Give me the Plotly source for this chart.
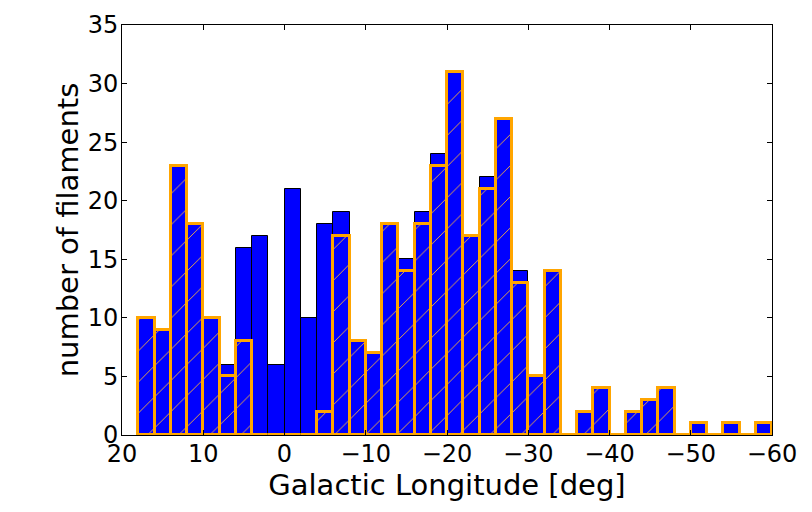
import plotly.graph_objects as go

# Bin edges in Galactic longitude (deg), 2-degree bins from +18 down to -60
bin_edges = [18, 16, 14, 12, 10, 8, 6, 4, 2, 0, -2, -4, -6, -8, -10, -12, -14, -16, -18, -20,
             -22, -24, -26, -28, -30, -32, -34, -36, -38, -40, -42, -44, -46, -48, -50, -52,
             -54, -56, -58, -60]

# All filaments per bin
counts_all = [10, 9, 23, 18, 10, 6, 16, 17, 6, 21, 10, 18, 19, 8, 7, 18, 15, 19, 24, 31,
              17, 22, 27, 14, 5, 14, 0, 2, 4, 0, 2, 3, 4, 0, 1, 0, 1, 0, 1]

# Subset (orange, hatched) per bin
counts_sub = [10, 9, 23, 18, 10, 5, 8, 0, 0, 0, 0, 2, 17, 8, 7, 18, 14, 18, 23, 31,
              17, 21, 27, 13, 5, 14, 0, 2, 4, 0, 2, 3, 4, 0, 1, 0, 1, 0, 1]

x_ticks = [20, 10, 0, -10, -20, -30, -40, -50, -60]
y_ticks = [0, 5, 10, 15, 20, 25, 30, 35]

centers = [(a + b) / 2 for a, b in zip(bin_edges[:-1], bin_edges[1:])]
widths = [abs(b - a) for a, b in zip(bin_edges[:-1], bin_edges[1:])]

fig = go.Figure()

fig.add_trace(go.Bar(
    x=centers, y=counts_all, width=widths,
    marker=dict(color="#0000ff", line=dict(color="black", width=1)),
    hoverinfo="skip", showlegend=False,
))

fig.add_trace(go.Bar(
    x=centers, y=counts_sub, width=widths,
    marker=dict(
        color="#0000ff",
        line=dict(color="#ffa500", width=3),
        pattern=dict(shape="/", fgcolor="#ffb733", bgcolor="#0000ff",
                     size=22, solidity=0.04, fillmode="replace"),
    ),
    hoverinfo="skip", showlegend=False,
))

axis_common = dict(
    showline=True, linecolor="black", linewidth=1, mirror="ticks",
    ticks="inside", ticklen=5, tickcolor="black", tickwidth=1,
    showgrid=False, zeroline=False, automargin=False,
    tickfont=dict(size=24, color="black"),
)

# page body has an 8px margin, so the figure is shrunk and shifted to fit
fig.update_layout(
    width=804, height=500,
    margin=dict(l=114, r=40, t=17, b=73),
    paper_bgcolor="white", plot_bgcolor="white",
    font=dict(family="DejaVu Sans", size=24, color="black"),
    barmode="overlay", bargap=0,
    xaxis=dict(range=[20, -60], tickvals=x_ticks, ticklabelstandoff=-3,
               title=dict(text="Galactic Longitude [deg]", standoff=0), **axis_common),
    yaxis=dict(range=[0, 35], tickvals=y_ticks, ticklabelstandoff=-2,
               title=dict(text="number of filaments", standoff=0), **axis_common),
)

fig.write_html("out.html")
